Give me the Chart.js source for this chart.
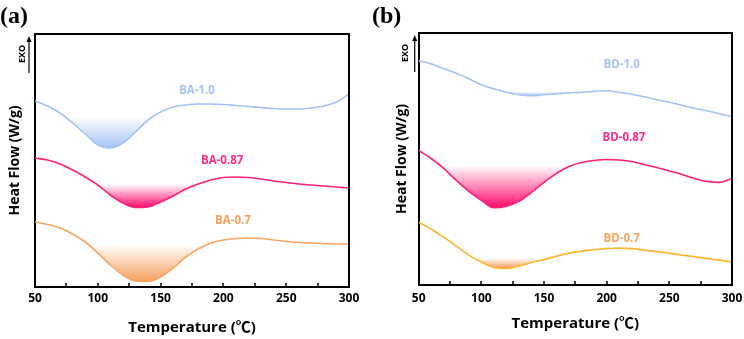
<!DOCTYPE html>
<html>
<head>
<meta charset="utf-8">
<script src="https://cdn.jsdelivr.net/npm/chart.js@4.4.1/dist/chart.umd.min.js"></script>
<style>
  html, body { margin: 0; padding: 0; background: #fff; }
  #wrap { position: relative; width: 744px; height: 339px; }
  .panel { position: absolute; top: 0; width: 372px; height: 339px; }
</style>
</head>
<body>
<div id="wrap">
  <div class="panel" style="left:0"><canvas id="chart-a"></canvas></div>
  <div class="panel" style="left:372px"><canvas id="chart-b"></canvas></div>
</div>
<script>
// DSC traces, heat flow in arbitrary units (EXO up)
var temps = [50, 60, 70, 80, 90, 100, 110, 120, 130, 140, 150, 160, 170, 180, 190,
             200, 210, 220, 230, 240, 250, 260, 270, 280, 290, 300];

var ba10  = [186, 181, 174, 164, 153, 142, 139, 144, 155, 167, 175, 180, 182, 183, 183,
             182.5, 181.5, 180.5, 179.5, 178.5, 178, 178, 179, 181, 185, 193];
var ba087 = [129, 127, 123, 117, 110, 102, 92, 84, 79.5, 80, 85, 91, 98, 103, 107,
             109.5, 110, 109.5, 108, 106, 104.5, 103, 102, 101, 100, 99];
var ba07  = [65, 62.5, 59, 53, 45, 34, 22, 12, 6, 5.5, 10, 19, 30, 38, 44,
             47, 48.5, 49, 48.5, 47, 45.5, 44.5, 44, 43.5, 43, 43];

var bd10  = [225, 222, 217, 212.5, 207, 201, 197, 193.5, 191, 190, 191, 192, 193, 193.5, 194.5,
             195, 193.5, 191.5, 189, 186, 183.5, 180.5, 177.5, 175, 172, 169];
var bd087 = [135, 127, 117, 105, 94, 85, 77.5, 79, 84, 93, 103, 112, 119, 123, 125,
             126, 125.5, 124, 121, 118, 114.5, 111, 107, 104, 103, 107];
var bd07  = [63, 56, 48, 39, 30, 23, 17.5, 16.5, 19, 22.5, 25.5, 29, 32, 34, 35.5,
             36.5, 37, 36.5, 35, 33.5, 32, 30, 28.5, 26.5, 25, 23];

var xTickLabels = [50, 100, 150, 200, 250, 300];

// endothermic dip: baseline level and temperature window of the shaded area
var dipsA = [
  { values: ba10,  base: 170,   from: 60,  to: 160 },
  { values: ba087, base: 103,   from: 80,  to: 190 },
  { values: ba07,  base: 42.5,  from: 70,  to: 200 }
];
var dipsB = [
  { values: bd10,  base: 194,   from: 100, to: 190 },
  { values: bd087, base: 120,   from: 60,  to: 190 },
  { values: bd07,  base: 27,    from: 70,  to: 170 }
];

var FONT = "'Open Sans', 'Noto Sans CJK SC', sans-serif";
var BLUE = [164, 194, 244], PINK = [255, 32, 121], ORANGE = [249, 164, 99], AMBER = [255, 183, 50];

function rgba(c, a) { return "rgba(" + c[0] + "," + c[1] + "," + c[2] + "," + a + ")"; }

function curve(label, values, color) {
  return {
    label: label,
    data: temps.map(function (t, i) { return { x: t, y: values[i] }; }),
    borderColor: rgba(color, 1),
    borderWidth: 1.6,
    pointRadius: 0,
    fill: false,
    cubicInterpolationMode: "monotone"
  };
}

function dip(d, color) {
  var pts = [];
  temps.forEach(function (t, i) { if (t >= d.from && t <= d.to) pts.push({ x: t, y: d.values[i] }); });
  var low = Math.min.apply(null, pts.map(function (p) { return p.y; }));
  return {
    data: pts,
    borderWidth: 0,
    pointRadius: 0,
    cubicInterpolationMode: "monotone",
    fill: { value: d.base, above: "rgba(0,0,0,0)" },
    backgroundColor: function (ctx) {
      var ch = ctx.chart;
      if (!ch.chartArea) return "rgba(0,0,0,0)";
      var y = ch.scales.y;
      var g = ch.ctx.createLinearGradient(0, y.getPixelForValue(d.base), 0, y.getPixelForValue(low));
      g.addColorStop(0, rgba(color, 0));
      g.addColorStop(0.4, rgba(color, 0.4));
      g.addColorStop(1, rgba(color, 1));
      return g;
    }
  };
}

// top/right box edges and inward tick marks on the temperature axis
var framePlugin = {
  id: "frame",
  afterDraw: function (chart) {
    var a = chart.chartArea, c = chart.ctx, xs = chart.scales.x;
    c.save();
    c.strokeStyle = "#000";
    c.lineWidth = 2;
    c.beginPath();
    c.moveTo(a.left, a.top);
    c.lineTo(a.right, a.top);
    c.lineTo(a.right, a.bottom);
    c.stroke();
    c.lineWidth = 1.5;
    c.beginPath();
    xs.ticks.forEach(function (t) {
      var px = Math.round(xs.getPixelForValue(t.value));
      c.moveTo(px, a.bottom);
      c.lineTo(px, a.bottom - 4);
    });
    c.stroke();
    c.restore();
  }
};

function exoPlugin(textDx, lineDx) {
  return {
    id: "exo",
    afterDraw: function (chart) {
      var a = chart.chartArea, c = chart.ctx;
      var lx = a.left + lineDx;
      c.save();
      c.fillStyle = "#000";
      c.strokeStyle = "#000";
      c.lineWidth = 1.2;
      c.beginPath();
      c.moveTo(lx, a.top + 39);
      c.lineTo(lx, a.top + 6);
      c.stroke();
      c.beginPath();
      c.moveTo(lx, a.top + 2);
      c.lineTo(lx - 2.5, a.top + 8);
      c.lineTo(lx + 2.5, a.top + 8);
      c.closePath();
      c.fill();
      c.translate(a.left + textDx, a.top + 20);
      c.rotate(-Math.PI / 2);
      c.font = "bold 9px " + FONT;
      c.textAlign = "center";
      c.textBaseline = "middle";
      c.fillText("EXO", 0, 0);
      c.restore();
    }
  };
}

function tagPlugin(tags) {
  return {
    id: "tags",
    afterDatasetsDraw: function (chart) {
      var c = chart.ctx, xs = chart.scales.x, ys = chart.scales.y;
      c.save();
      c.font = "bold 11.5px " + FONT;
      c.textAlign = "center";
      c.textBaseline = "middle";
      tags.forEach(function (t) {
        c.fillStyle = t.color;
        c.fillText(t.text, xs.getPixelForValue(t.x), ys.getPixelForValue(t.y));
      });
      c.restore();
    }
  };
}

function makeChart(id, panel, series, dips, tags, lay) {
  var datasets = series.map(function (s) { return curve(s[0], s[1], s[2]); });
  dips.forEach(function (d, i) { datasets.push(dip(d, series[i][3])); });
  return new Chart(document.getElementById(id), {
    type: "line",
    data: { datasets: datasets },
    options: {
      responsive: true,
      maintainAspectRatio: false,
      animation: false,
      layout: { padding: { left: 0, right: lay.padRight, top: 0, bottom: 0 } },
      plugins: {
        legend: { display: false },
        tooltip: { enabled: false },
        title: {
          display: true, text: panel, align: "start", color: "#000",
          font: { family: "'Liberation Serif', serif", size: 24, weight: "bold" },
          padding: { top: 2, bottom: lay.titleBottom }
        }
      },
      scales: {
        x: {
          type: "linear", min: 50, max: 300,
          ticks: {
            stepSize: 25, autoSkip: false, maxRotation: 0, color: "#000", padding: 0,
            font: { family: FONT, size: 12, weight: "bold" },
            callback: function (v) { return xTickLabels.indexOf(v) >= 0 ? String(v) : ""; }
          },
          grid: { display: false, drawTicks: true, tickLength: lay.labelGap },
          border: { display: true, color: "#000", width: 2 },
          title: {
            display: true, text: "Temperature (\u2103)", color: "#000",
            font: { family: FONT, size: 15, weight: "bold" },
            padding: { top: lay.xTitleTop, bottom: lay.xTitleBottom }
          }
        },
        y: {
          min: 0, max: 253,
          ticks: { display: false },
          grid: { display: false, drawTicks: false },
          border: { display: true, color: "#000", width: 2 },
          title: {
            display: true, text: "Heat Flow (W/g)", color: "#000",
            font: { family: FONT, size: 14, weight: "bold" },
            padding: { top: lay.yTitleTop, bottom: lay.yTitleBottom }
          }
        }
      }
    },
    plugins: [framePlugin, exoPlugin(lay.exoText, lay.exoLine), tagPlugin(tags)]
  });
}

makeChart("chart-a", "(a)",
  [["BA-1.0", ba10, BLUE, BLUE], ["BA-0.87", ba087, PINK, [255, 10, 110]], ["BA-0.7", ba07, ORANGE, [246, 160, 95]]],
  dipsA,
  [
    { text: "BA-1.0",  x: 179, y: 196,  color: "#a9c4f2" },
    { text: "BA-0.87", x: 199, y: 126,  color: "#ff2d87" },
    { text: "BA-0.7",  x: 207.6, y: 66.5, color: "#f7a05e" }
  ],
  { padRight: 23, titleBottom: 3.2, labelGap: 4.3, xTitleTop: 13.3, xTitleBottom: 2,
    yTitleTop: 6.6, yTitleBottom: 11.6, exoText: -13, exoLine: -6 });

makeChart("chart-b", "(b)",
  [["BD-1.0", bd10, BLUE, BLUE], ["BD-0.87", bd087, PINK, [255, 10, 110]], ["BD-0.7", bd07, AMBER, [245, 154, 87]]],
  dipsB,
  [
    { text: "BD-1.0",  x: 212, y: 221,   color: "#a9c4f2" },
    { text: "BD-0.87", x: 213.8, y: 147.5, color: "#ff2d87" },
    { text: "BD-0.7",  x: 212, y: 46,    color: "#f8a65e" }
  ],
  { padRight: 12, titleBottom: 2.2, labelGap: 6.3, xTitleTop: 8.8, xTitleBottom: 6.5,
    yTitleTop: 21.6, yTitleBottom: 8.3, exoText: -13.5, exoLine: -4 });
</script>
</body>
</html>
